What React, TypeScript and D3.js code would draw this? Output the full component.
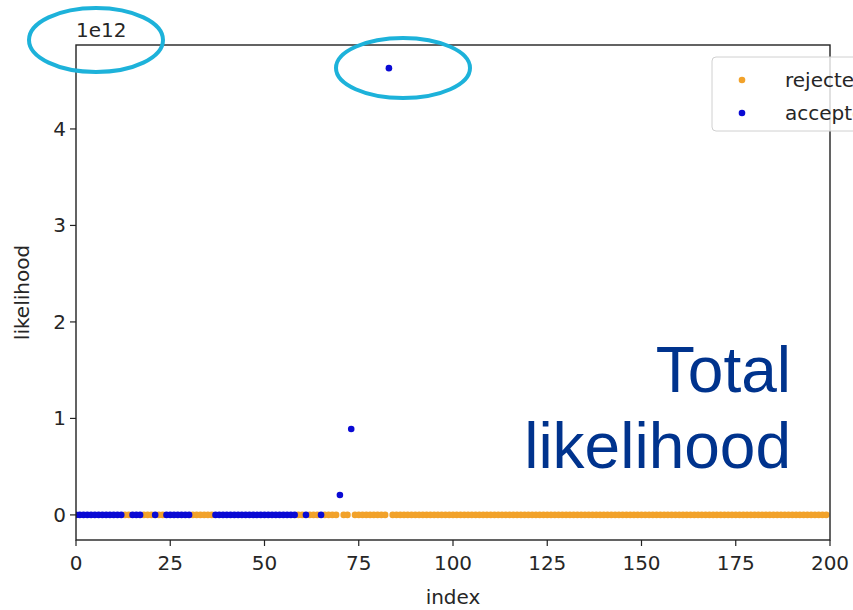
import React from "react";
import * as d3 from "d3";

// Sample indices whose proposal was accepted, with their likelihood (units of 1e12)
const acceptedIndex: number[] = [
  0, 1, 2, 3, 4, 5, 6, 7, 8, 9, 10, 11, 12,
  15, 16, 17,
  21,
  24, 25, 26, 27, 28, 29, 30,
  37, 38, 39, 40, 41, 42, 43, 44, 45, 46, 47, 48, 49, 50, 51, 52, 53, 54, 55, 56, 57, 58,
  61, 65, 70, 73, 83,
];
const acceptedLikelihood: number[] = [
  0, 0, 0, 0, 0, 0, 0, 0, 0, 0, 0, 0, 0,
  0, 0, 0,
  0,
  0, 0, 0, 0, 0, 0, 0,
  0, 0, 0, 0, 0, 0, 0, 0, 0, 0, 0, 0, 0, 0, 0, 0, 0, 0, 0, 0, 0, 0,
  0, 0, 0.207, 0.89, 4.63,
];

// Rejected samples, as inclusive runs of consecutive indices; all sit at ~0 likelihood
const rejectedRuns: [number, number][] = [
  [13, 14], [18, 20], [22, 23], [31, 36], [59, 60], [62, 64],
  [66, 69], [71, 72], [74, 82], [84, 199],
];
const rejectedLikelihood = 0;

const xTicks: number[] = [0, 25, 50, 75, 100, 125, 150, 175, 200];
const yTicks: number[] = [0, 1, 2, 3, 4];

const W = 853;
const H = 610;
const M = { left: 76, right: 830, top: 45, bottom: 540 };

const ORANGE = "#f2a22a";
const BLUE = "#0a0ad4";
const ANNOT = "#1db2da";
const TICK_FONT = "DejaVu Sans, sans-serif";
const FS = 20;

export default function App() {
  const x = d3.scaleLinear().domain([0, 200]).range([M.left, M.right]);
  const y = d3.scaleLinear().domain([-0.26, 4.87]).range([M.bottom, M.top]);

  const rejected: { i: number; v: number }[] = [];
  rejectedRuns.forEach(([a, b]) => {
    for (let i = a; i <= b; i++) rejected.push({ i, v: rejectedLikelihood });
  });
  const accepted = acceptedIndex.map((i, k) => ({ i, v: acceptedLikelihood[k] }));

  const r = 3.3;

  return (
    <svg
      width={W}
      height={H}
      style={{ position: "absolute", left: 0, top: 0, background: "#fff" }}
    >
      <defs>
        <clipPath id="plot-clip">
          <rect x={M.left} y={M.top} width={M.right - M.left} height={M.bottom - M.top} />
        </clipPath>
      </defs>

      {/* scatter marks */}
      <g clipPath="url(#plot-clip)">
        {rejected.map((d) => (
          <circle key={"r" + d.i} cx={x(d.i)} cy={y(d.v)} r={r} fill={ORANGE} />
        ))}
        {accepted.map((d) => (
          <circle key={"a" + d.i} cx={x(d.i)} cy={y(d.v)} r={r} fill={BLUE} />
        ))}
      </g>

      {/* axes frame */}
      <rect
        x={M.left}
        y={M.top}
        width={M.right - M.left}
        height={M.bottom - M.top}
        fill="none"
        stroke="#222"
        strokeWidth={1.4}
      />

      {/* x ticks */}
      {xTicks.map((t) => (
        <g key={"xt" + t}>
          <line x1={x(t)} x2={x(t)} y1={M.bottom} y2={M.bottom + 6} stroke="#222" strokeWidth={1.2} />
          <text
            x={x(t)}
            y={M.bottom + 30}
            textAnchor="middle"
            fontFamily={TICK_FONT}
            fontSize={FS}
            fill="#262626"
          >
            {t}
          </text>
        </g>
      ))}

      {/* y ticks */}
      {yTicks.map((t) => (
        <g key={"yt" + t}>
          <line x1={M.left - 6} x2={M.left} y1={y(t)} y2={y(t)} stroke="#222" strokeWidth={1.2} />
          <text
            x={M.left - 10}
            y={y(t) + 7}
            textAnchor="end"
            fontFamily={TICK_FONT}
            fontSize={FS}
            fill="#262626"
          >
            {t}
          </text>
        </g>
      ))}

      {/* offset label */}
      <text x={M.left} y={M.top - 8} fontFamily={TICK_FONT} fontSize={FS} fill="#262626">
        1e12
      </text>

      {/* axis titles */}
      <text
        x={(M.left + M.right) / 2}
        y={604}
        textAnchor="middle"
        fontFamily={TICK_FONT}
        fontSize={FS}
        fill="#262626"
      >
        index
      </text>
      <text
        transform={`translate(29, ${(M.top + M.bottom) / 2}) rotate(-90)`}
        textAnchor="middle"
        fontFamily={TICK_FONT}
        fontSize={FS}
        fill="#262626"
      >
        likelihood
      </text>

      {/* legend */}
      <g>
        <rect
          x={712}
          y={57}
          width={180}
          height={74}
          rx={4}
          fill="#fff"
          fillOpacity={0.8}
          stroke="#d0d0d0"
          strokeWidth={1}
        />
        <circle cx={742} cy={80} r={r} fill={ORANGE} />
        <text x={785} y={87} fontFamily={TICK_FONT} fontSize={FS} fill="#262626">
          rejected
        </text>
        <circle cx={742} cy={113} r={r} fill={BLUE} />
        <text x={785} y={120} fontFamily={TICK_FONT} fontSize={FS} fill="#262626">
          accepted
        </text>
      </g>

      {/* overlay caption */}
      <text
        x={791}
        y={392}
        textAnchor="end"
        fontFamily="Liberation Sans, Arial, sans-serif"
        fontSize={64}
        fill="#00338d"
      >
        Total
      </text>
      <text
        x={791}
        y={468}
        textAnchor="end"
        fontFamily="Liberation Sans, Arial, sans-serif"
        fontSize={64}
        fill="#00338d"
      >
        likelihood
      </text>

      {/* highlight ellipses */}
      <ellipse cx={96} cy={40} rx={67} ry={32} fill="none" stroke={ANNOT} strokeWidth={4} />
      <ellipse cx={403} cy={68} rx={67} ry={30} fill="none" stroke={ANNOT} strokeWidth={4} />
    </svg>
  );
}
